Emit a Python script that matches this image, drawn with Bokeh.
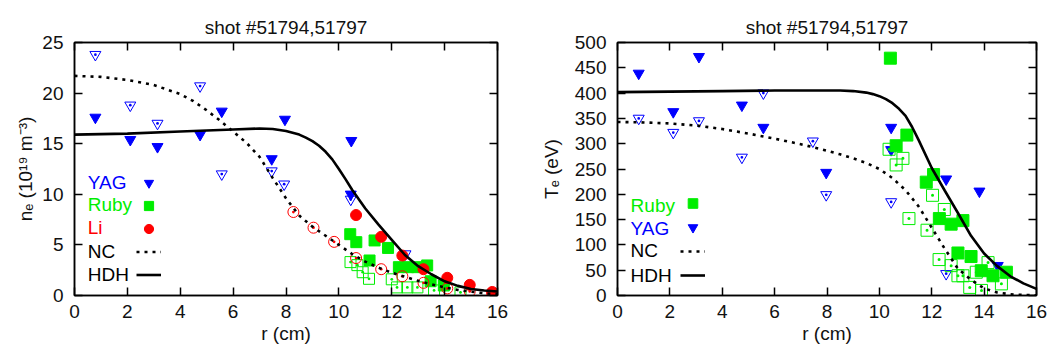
import numpy as np
from bokeh.plotting import figure
from bokeh.models import (Range1d, LinearAxis, Label, Legend, LegendItem,
                          FixedTicker, CustomJSTickFormatter)
from bokeh.layouts import row
from bokeh.embed import file_html
from bokeh.resources import INLINE

FONT = "Liberation Sans"
BLUE = "#0000ff"
GREEN = "#00ee00"
RED = "#ff0000"

TITLE = "shot #51794,51797"
X_LABEL = "r (cm)"
NE_LABEL = "nₑ (10¹⁹ m⁻³)"
TE_LABEL = "Tₑ (eV)"
X_TICKS = [0, 2, 4, 6, 8, 10, 12, 14, 16]
NE_TICKS = [0, 5, 10, 15, 20, 25]
TE_TICKS = [0, 50, 100, 150, 200, 250, 300, 350, 400, 450, 500]

# ---------------- density panel ----------------
ne_yag_f_r = [0.79, 2.11, 3.14, 4.75, 5.57, 7.46, 7.96, 10.45, 10.47]
ne_yag_f = [17.6, 15.4, 14.7, 15.9, 18.2, 13.5, 17.4, 10.0, 15.3]
ne_yag_o_r = [0.79, 2.11, 3.14, 4.75, 5.57, 7.46, 7.93, 10.45, 12.52]
ne_yag_o = [23.8, 18.8, 17.0, 20.7, 12.0, 12.3, 11.0, 9.5, 4.1]

ne_ruby_f_r = [10.43, 10.66, 11.16, 11.35, 11.86, 12.27, 12.62, 12.96, 13.34, 13.47, 13.97]
ne_ruby_f = [6.06, 5.27, 3.46, 5.44, 4.7, 2.8, 2.8, 2.8, 2.97, 1.41, 0.99]
ne_ruby_o_r = [10.44, 10.7, 10.9, 11.14, 12.0, 12.2, 12.59, 12.97, 13.6, 14.6]
ne_ruby_o = [3.3, 3.0, 2.3, 1.65, 1.6, 0.8, 0.8, 0.8, 0.5, 0.3]

ne_li_f_r = [10.65, 11.6, 12.4, 13.2, 14.1, 14.95, 15.8]
ne_li_f = [7.95, 5.8, 3.95, 2.6, 1.75, 1.05, 0.35]
ne_li_o_r = [8.28, 9.04, 9.82, 10.65, 11.6, 12.4, 13.2, 14.1, 14.95, 15.8]
ne_li_o = [8.25, 6.7, 5.3, 3.7, 2.6, 1.9, 1.25, 0.7, 0.4, 0.15]

ne_nc_r = [0, 1, 2, 3, 4, 4.5, 5, 5.5, 6, 6.5, 7, 7.5, 8, 8.5, 9, 9.5, 10,
           10.5, 11, 11.5, 12, 12.5, 13, 13.5, 14, 14.5, 15, 15.5, 16]
ne_nc = [21.7, 21.6, 21.3, 20.8, 19.9, 19.2, 18.3, 17.3, 16.2, 15.1, 13.7, 11.6, 9.6,
         7.9, 6.8, 5.9, 5.0, 4.1, 3.35, 2.75, 2.25, 1.85, 1.45, 1.1, 0.8, 0.55, 0.38, 0.22, 0.12]
ne_hdh_r = [0, 2, 4, 5, 6, 7, 7.5, 8, 8.5, 8.75, 9, 9.25, 9.5, 9.75, 10, 10.25,
            10.5, 11, 11.5, 12, 12.5, 13, 13.5, 14, 14.5, 15, 15.5, 16]
ne_hdh = [15.9, 16.0, 16.2, 16.3, 16.4, 16.5, 16.45, 16.25, 15.9, 15.6, 15.25, 14.8,
          14.2, 13.45, 12.5, 11.5, 10.45, 8.6, 7.0, 5.5, 4.0, 2.9, 2.1, 1.4, 0.95,
          0.65, 0.5, 0.4]

# ---------------- temperature panel ----------------
te_yag_f_r = [0.81, 2.13, 3.11, 4.75, 5.57, 7.97, 10.45, 10.45, 12.55, 13.82, 14.52]
te_yag_f = [439, 363, 472, 376, 332, 243, 332, 288, 230, 206, 59]
te_yag_o_r = [0.81, 2.13, 3.11, 4.75, 5.57, 7.46, 7.97, 10.45, 12.55]
te_yag_o = [350, 322, 345, 273, 400, 305, 199, 185, 43]

te_ruby_f_r = [10.42, 10.64, 11.05, 11.79, 12.07, 12.29, 12.74, 13.19, 13.0, 13.5, 13.89, 14.34, 14.85]
te_ruby_f = [469, 296, 317, 224, 239, 152, 141, 148, 84, 77, 49, 39, 46]
te_ruby_o_r = [10.37, 10.64, 10.9, 11.13, 11.82, 12.03, 12.28, 12.48, 12.74, 13.0, 13.19,
               13.45, 13.7, 13.9, 14.15, 14.66]
te_ruby_o = [289, 258, 271, 152, 129, 198, 71, 170, 59, 39, 39, 16, 46, 10, 65, 23]

te_hdh_r = [0, 2, 4, 6, 8, 8.5, 9, 9.5, 9.75, 10, 10.25, 10.5, 10.75, 11, 11.25,
            11.5, 12, 12.5, 13, 13.5, 14, 14.5, 15, 15.5, 16]
te_hdh = [402, 403, 404, 405, 405, 405, 404, 401, 398, 394, 388, 380, 369, 355,
          333, 307, 252, 207, 163, 118, 83, 58, 38, 24, 13]
te_nc_r = [0, 1, 2, 3, 4, 5, 6, 7, 8, 8.5, 9, 9.5, 10, 10.5, 11, 11.5, 12, 12.5,
           13, 13.5, 14, 14.5, 15, 15.5, 16]
te_nc = [343, 342, 340, 336, 329, 320, 310, 299, 286, 279, 271, 262, 250, 232,
         208, 176, 134, 92, 53, 31, 14, 6, 2.5, 1, 0.5]


def make_fig(width, bl, br, bb, ymax, yticks, ylabel, ylabel_standoff):
    p = figure(width=width, height=349, x_range=Range1d(0, 16), y_range=Range1d(0, ymax),
               output_backend="svg", toolbar_location=None,
               min_border_left=bl, min_border_right=br, min_border_bottom=bb,
               min_border_top=42)
    p.background_fill_color = "white"
    p.border_fill_color = "white"
    p.grid.visible = False
    p.outline_line_color = "black"
    p.outline_line_width = 1.5
    p.title.text = TITLE
    p.title.align = "center"
    p.title.text_font = FONT
    p.title.text_font_size = "19px"
    p.title.text_font_style = "normal"
    p.title.text_color = "#111111"

    p.xaxis.ticker = FixedTicker(ticks=X_TICKS)
    p.yaxis.ticker = FixedTicker(ticks=yticks)
    p.xaxis.axis_label = X_LABEL
    p.yaxis.axis_label = ylabel
    p.yaxis.axis_label_standoff = ylabel_standoff
    p.xaxis.axis_label_standoff = 2
    p.xaxis.major_label_standoff = 9
    p.yaxis.major_label_standoff = 11
    for ax in (p.xaxis[0], p.yaxis[0]):
        ax.axis_line_width = 1.5
        ax.major_tick_in = 8
        ax.major_tick_out = 0
        ax.major_tick_line_width = 1.5
        ax.minor_tick_line_color = None
        ax.major_label_text_font = FONT
        ax.major_label_text_font_size = "19px"
        ax.major_label_text_color = "#111111"
        ax.axis_label_text_font = FONT
        ax.axis_label_text_font_size = "19px"
        ax.axis_label_text_font_style = "normal"
        ax.axis_label_text_color = "#111111"

    for loc, ticks in (("above", X_TICKS), ("right", yticks)):
        ax = LinearAxis(ticker=FixedTicker(ticks=ticks),
                        formatter=CustomJSTickFormatter(code="return ''"))
        ax.axis_line_width = 1.5
        ax.major_tick_in = 8
        ax.major_tick_out = 0
        ax.major_tick_line_width = 1.5
        ax.minor_tick_line_color = None
        ax.major_label_standoff = 0
        ax.major_label_text_font_size = "1px"
        p.add_layout(ax, loc)
    return p


def open_tri(p, x, y):
    p.scatter(x, y, marker="triangle_dot", angle=np.pi, size=11, fill_color=None,
              line_color=BLUE, line_width=1)


def legend_text(p, x, y, text, color):
    p.add_layout(Label(x=x, y=y, text=text, text_color=color, text_font=FONT,
                       text_font_size="19px", text_baseline="middle", text_align="left"))


def glyph_legend(p, renderers, loc, gh):
    leg = Legend(items=[LegendItem(label=" ", renderers=[r]) for r in renderers],
                 location=loc, orientation="vertical", glyph_width=25, glyph_height=gh,
                 spacing=0, padding=0, margin=0, label_width=0, label_standoff=0,
                 label_text_font_size="1px", border_line_alpha=0,
                 background_fill_alpha=0)
    p.add_layout(leg)


# ---- left: density ----
p1 = make_fig(530, 74, 33, 54, 25, NE_TICKS, NE_LABEL, 3)
open_tri(p1, ne_yag_o_r, ne_yag_o)
r_yag1 = p1.scatter(ne_yag_f_r, ne_yag_f, marker="inverted_triangle", size=11,
                    color=BLUE)
p1.scatter(ne_ruby_o_r, ne_ruby_o, marker="square_dot", size=11, fill_color=None,
           line_color=GREEN, line_width=1)
r_ruby1 = p1.scatter(ne_ruby_f_r, ne_ruby_f, marker="square", size=11, color=GREEN)
p1.scatter(ne_li_o_r, ne_li_o, marker="circle_dot", size=11, fill_color=None,
           line_color=RED, line_width=1)
r_li1 = p1.scatter(ne_li_f_r, ne_li_f, marker="circle", size=11, color=RED)
r_nc1 = p1.line(ne_nc_r, ne_nc, line_color="black", line_width=2.6, line_dash="3 5")
r_hdh1 = p1.line(ne_hdh_r, ne_hdh, line_color="black", line_width=2.6)

legend_text(p1, 0.5, 11.2, "YAG", BLUE)
legend_text(p1, 0.5, 8.97, "Ruby", GREEN)
legend_text(p1, 0.5, 6.70, "Li", RED)
legend_text(p1, 0.5, 4.35, "NC", "black")
legend_text(p1, 0.5, 2.05, "HDH", "black")
glyph_legend(p1, [r_yag1, r_ruby1, r_li1, r_nc1, r_hdh1], (62, 9), 23)

# ---- right: temperature ----
p2 = make_fig(517, 87, 11, 52, 500, TE_TICKS, TE_LABEL, 10)
open_tri(p2, te_yag_o_r, te_yag_o)
r_yag2 = p2.scatter(te_yag_f_r, te_yag_f, marker="inverted_triangle", size=11,
                    color=BLUE)
p2.scatter(te_ruby_o_r, te_ruby_o, marker="square_dot", size=12, fill_color=None,
           line_color=GREEN, line_width=1)
r_ruby2 = p2.scatter(te_ruby_f_r, te_ruby_f, marker="square", size=12, color=GREEN)
r_nc2 = p2.line(te_nc_r, te_nc, line_color="black", line_width=2.6, line_dash="3 5")
r_hdh2 = p2.line(te_hdh_r, te_hdh, line_color="black", line_width=2.6)

legend_text(p2, 0.5, 178.5, "Ruby", GREEN)
legend_text(p2, 0.5, 132.2, "YAG", BLUE)
legend_text(p2, 0.5, 88.3, "NC", "black")
legend_text(p2, 0.5, 39.2, "HDH", "black")
glyph_legend(p2, [r_ruby2, r_yag2, r_nc2, r_hdh2], (63, 8), 24)

layout = row(p1, p2)
open("out.html", "w").write(file_html(layout, INLINE))
